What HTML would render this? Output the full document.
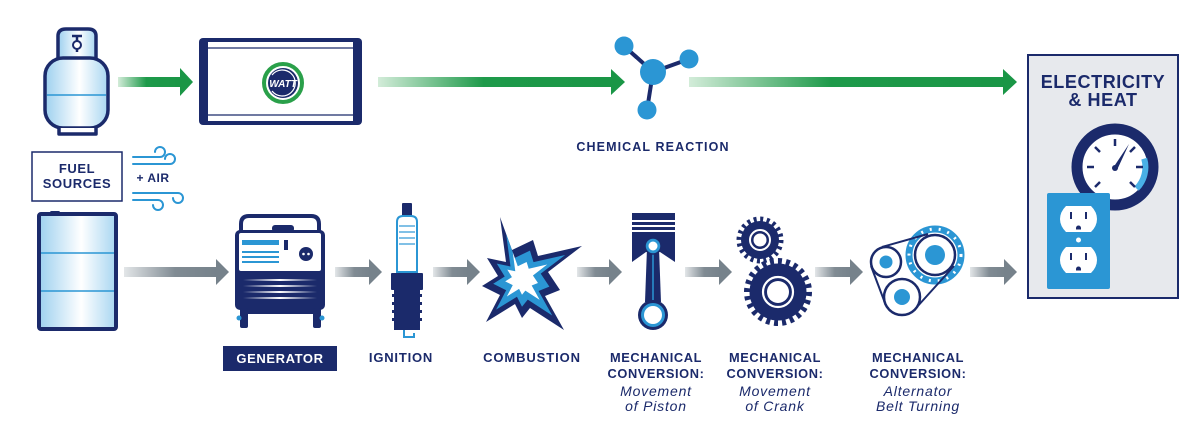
<!DOCTYPE html>
<html><head><meta charset="utf-8"><style>
html,body{margin:0;padding:0;background:#fff;}
svg{display:block;}
.t{font-family:"Liberation Sans",sans-serif;font-weight:bold;fill:#1b2a6b;}
.i{font-family:"Liberation Sans",sans-serif;font-style:italic;fill:#1b2a6b;}
</style></head><body>
<svg width="1200" height="430" viewBox="0 0 1200 430" xmlns="http://www.w3.org/2000/svg">
<defs>
<linearGradient id="gg" x1="0" x2="1" y1="0" y2="0"><stop offset="0" stop-color="#d3ecd9"/><stop offset="0.45" stop-color="#1e9a4a"/><stop offset="1" stop-color="#1a9646"/></linearGradient>
<linearGradient id="gr" x1="0" x2="1" y1="0" y2="0"><stop offset="0" stop-color="#e3e6e8"/><stop offset="0.55" stop-color="#808b93"/><stop offset="1" stop-color="#76828b"/></linearGradient>
<linearGradient id="tk" x1="0" x2="1" y1="0" y2="0"><stop offset="0" stop-color="#9dd0ef"/><stop offset="0.55" stop-color="#ffffff"/><stop offset="1" stop-color="#a8d6f1"/></linearGradient>
<linearGradient id="ws" x1="0" x2="1"><stop offset="0" stop-color="#1b2a6b"/><stop offset="0.5" stop-color="#ffffff"/><stop offset="1" stop-color="#1b2a6b"/></linearGradient>
</defs>

<!-- propane tank -->
<path d="M58,62 V36 Q58,29 66,29 H88 Q96,29 96,36 V62" fill="url(#tk)" stroke="#1b2a6b" stroke-width="3.5"/>
<line x1="77" y1="36" x2="77" y2="52" stroke="#1b2a6b" stroke-width="2.5"/>
<line x1="72" y1="36" x2="82" y2="36" stroke="#1b2a6b" stroke-width="2.5"/>
<circle cx="77" cy="45" r="4" fill="#fff" stroke="#1b2a6b" stroke-width="2"/>
<rect x="45" y="58" width="63" height="70" rx="18" fill="url(#tk)" stroke="#1b2a6b" stroke-width="3.5"/>
<line x1="47" y1="95" x2="106" y2="95" stroke="#2b96d4" stroke-width="1.5"/>
<path d="M59,128 V134 H96 V128" fill="#fff" stroke="#1b2a6b" stroke-width="3.5" stroke-linejoin="round"/>

<!-- green arrow 1 -->
<rect x="118" y="77" width="63" height="10" fill="url(#gg)"/>
<polygon points="180,68 193,82 180,96" fill="#1a9646"/>

<!-- watt box -->
<rect x="203" y="39" width="155" height="86" fill="#fff"/>
<rect x="203" y="38" width="155" height="4" fill="#1b2a6b"/>
<rect x="203" y="121" width="155" height="4" fill="#1b2a6b"/>
<line x1="207" y1="48" x2="355" y2="48" stroke="#1b2a6b" stroke-width="1.2"/>
<line x1="207" y1="115" x2="355" y2="115" stroke="#1b2a6b" stroke-width="1.2"/>
<rect x="199" y="38" width="9" height="87" rx="4" fill="#1b2a6b"/>
<rect x="353" y="38" width="9" height="87" rx="4" fill="#1b2a6b"/>
<circle cx="283" cy="83" r="19" fill="#fff" stroke="#2aa04a" stroke-width="4"/>
<circle cx="283" cy="83" r="15" fill="#1b2a6b"/>
<path d="M272,75 A13,13 0 1 1 272,91" fill="none" stroke="#fff" stroke-width="1.2"/>
<text x="283" y="87" text-anchor="middle" font-family="Liberation Sans,sans-serif" font-weight="bold" font-style="italic" font-size="10" fill="#fff">WATT</text>

<!-- green arrow 2 -->
<rect x="378" y="77" width="235" height="10" fill="url(#gg)"/>
<polygon points="611,69 625,82 611,95" fill="#1a9646"/>

<!-- molecule -->
<g stroke="#1b2a6b" stroke-width="4">
<line x1="624" y1="46" x2="653" y2="72"/>
<line x1="689" y1="59" x2="653" y2="72"/>
<line x1="647" y1="110" x2="653" y2="72"/>
</g>
<circle cx="624" cy="46" r="9.5" fill="#2b96d4"/>
<circle cx="689" cy="59" r="9.5" fill="#2b96d4"/>
<circle cx="647" cy="110" r="9.5" fill="#2b96d4"/>
<circle cx="653" cy="72" r="13" fill="#2b96d4"/>

<!-- green arrow 3 -->
<rect x="689" y="77" width="316" height="10" fill="url(#gg)"/>
<polygon points="1003,69 1017,82 1003,95" fill="#1a9646"/>

<text class="t" x="653" y="151" text-anchor="middle" font-size="12.5" letter-spacing="1.1">CHEMICAL REACTION</text>

<!-- fuel sources -->
<rect x="32" y="152" width="90" height="49" fill="#fff" stroke="#1b2a6b" stroke-width="1.5"/>
<text class="t" x="77" y="173" text-anchor="middle" font-size="13" letter-spacing="0.6">FUEL</text>
<text class="t" x="77" y="188" text-anchor="middle" font-size="13" letter-spacing="0.6">SOURCES</text>

<!-- wind -->
<g fill="none" stroke="#2b96d4" stroke-width="2" stroke-linecap="round">
<path d="M133,157 H160 A5,5 0 1 0 155,152"/>
<path d="M133,164 H170 A5,5 0 1 0 165,159"/>
<path d="M133,193 H178 A5,5 0 1 1 173,198"/>
<path d="M133,200 H158 A5,5 0 1 1 153,205"/>
</g>
<text class="t" x="153" y="182" text-anchor="middle" font-size="12" letter-spacing="0.5">+ AIR</text>

<!-- barrel -->
<rect x="50" y="211" width="10" height="4" rx="1.5" fill="#1b2a6b"/>
<rect x="39" y="214" width="77" height="115" rx="2" fill="url(#tk)" stroke="#1b2a6b" stroke-width="4"/>
<line x1="41" y1="253" x2="114" y2="253" stroke="#2b96d4" stroke-width="1.5"/>
<line x1="41" y1="291" x2="114" y2="291" stroke="#2b96d4" stroke-width="1.5"/>

<!-- gray arrows -->
<g>
<rect x="124" y="267" width="93" height="10" fill="url(#gr)"/><polygon points="216,259 229,272 216,285" fill="#76828b"/>
<rect x="335" y="267" width="35" height="10" fill="url(#gr)"/><polygon points="369,259 382,272 369,285" fill="#76828b"/>
<rect x="433" y="267" width="35" height="10" fill="url(#gr)"/><polygon points="467,259 480,272 467,285" fill="#76828b"/>
<rect x="577" y="267" width="33" height="10" fill="url(#gr)"/><polygon points="609,259 622,272 609,285" fill="#76828b"/>
<rect x="685" y="267" width="35" height="10" fill="url(#gr)"/><polygon points="719,259 732,272 719,285" fill="#76828b"/>
<rect x="815" y="267" width="36" height="10" fill="url(#gr)"/><polygon points="850,259 863,272 850,285" fill="#76828b"/>
<rect x="970" y="267" width="35" height="10" fill="url(#gr)"/><polygon points="1004,259 1017,272 1004,285" fill="#76828b"/>
</g>

<!-- generator -->
<path d="M241,232 V224 Q241,216 249,216 H311 Q319,216 319,224 V232" fill="none" stroke="#1b2a6b" stroke-width="4"/>
<rect x="272" y="225" width="22" height="7" rx="3" fill="#1b2a6b"/>
<rect x="235" y="230" width="90" height="80" rx="5" fill="#1b2a6b"/>
<rect x="239" y="233" width="82" height="38" rx="2" fill="#fff"/>
<rect x="242" y="240" width="37" height="5" fill="#2b96d4"/>
<rect x="242" y="251" width="37" height="2" fill="#2b96d4"/>
<rect x="242" y="256" width="37" height="2" fill="#2b96d4"/>
<rect x="242" y="261" width="37" height="2" fill="#2b96d4"/>
<rect x="284" y="240" width="4" height="10" fill="#1b2a6b"/>
<circle cx="306" cy="254" r="7" fill="#1b2a6b"/>
<circle cx="303.5" cy="254" r="1.3" fill="#fff"/><circle cx="308.5" cy="254" r="1.3" fill="#fff"/>
<rect x="243" y="279" width="74" height="2" fill="url(#ws)"/>
<rect x="243" y="285" width="74" height="2" fill="url(#ws)"/>
<rect x="243" y="291" width="74" height="2" fill="url(#ws)"/>
<rect x="243" y="297" width="74" height="2" fill="url(#ws)"/>
<rect x="240" y="308" width="8" height="20" rx="2" fill="#1b2a6b"/>
<rect x="313" y="308" width="8" height="20" rx="2" fill="#1b2a6b"/>
<circle cx="239" cy="318" r="2.5" fill="#2b96d4"/><circle cx="322" cy="318" r="2.5" fill="#2b96d4"/>
<rect x="248" y="308" width="65" height="6" fill="#1b2a6b"/>

<rect x="223" y="346" width="114" height="25" fill="#1b2a6b"/>
<text x="280" y="363" text-anchor="middle" font-family="Liberation Sans,sans-serif" font-weight="bold" font-size="13" letter-spacing="0.6" fill="#fff">GENERATOR</text>

<!-- spark plug -->
<rect x="402" y="203" width="10" height="13" rx="1" fill="#1b2a6b"/>
<path d="M397,272 V222 Q397,216 403,216 H411 Q417,216 417,222 V272 Z" fill="#fff" stroke="#2b96d4" stroke-width="2"/>
<g stroke="#2b96d4" stroke-width="1.2"><line x1="399" y1="226" x2="415" y2="226"/><line x1="399" y1="232" x2="415" y2="232"/><line x1="399" y1="238" x2="415" y2="238"/><line x1="399" y1="244" x2="415" y2="244"/></g>
<rect x="391" y="273" width="32" height="17" rx="1" fill="#1b2a6b"/>
<rect x="394" y="290" width="26" height="40" fill="#1b2a6b"/>
<g fill="#1b2a6b"><rect x="392" y="294" width="30" height="3"/><rect x="392" y="302" width="30" height="3"/><rect x="392" y="310" width="30" height="3"/><rect x="392" y="318" width="30" height="3"/></g>
<path d="M404,330 V337 H414 V333" fill="none" stroke="#2b96d4" stroke-width="2"/>

<!-- combustion star -->
<g>
<polygon points="500,217 512,250 533,240 538,256 582,246 548,272 560,290 545,296 564,330 530,308 522,318 515,304 486,322 500,295 482,286 498,276 487,258 506,262" fill="#1b2a6b"/>
<polygon transform="translate(522,278) scale(0.72) translate(-522,-278)" points="500,217 512,250 533,240 538,256 582,246 548,272 560,290 545,296 564,330 530,308 522,318 515,304 486,322 500,295 482,286 498,276 487,258 506,262" fill="#2b96d4"/>
<polygon transform="translate(522,278) scale(0.42) translate(-522,-278)" points="500,217 512,250 533,240 538,256 582,246 548,272 560,290 545,296 564,330 530,308 522,318 515,304 486,322 500,295 482,286 498,276 487,258 506,262" fill="#ffffff"/>
</g>

<!-- piston -->
<path d="M632,213 H675 V262 L660,252 H646 L632,262 Z" fill="#1b2a6b"/>
<rect x="632" y="220" width="43" height="2" fill="#fff"/>
<rect x="632" y="225" width="43" height="2" fill="#fff"/>
<rect x="632" y="230" width="43" height="2" fill="#fff"/>
<path d="M647,248 L645,302 L661,302 L659,248 Z" fill="#1b2a6b"/>
<line x1="653" y1="254" x2="653" y2="300" stroke="#2b96d4" stroke-width="1.5"/>
<circle cx="653" cy="246" r="8" fill="#2b96d4" stroke="#1b2a6b" stroke-width="1.5"/>
<circle cx="653" cy="246" r="4.5" fill="#fff"/>
<circle cx="653" cy="315" r="15" fill="#1b2a6b"/>
<circle cx="653" cy="315" r="12" fill="#2b96d4"/>
<circle cx="653" cy="315" r="9" fill="#fff"/>

<!-- gears -->
<circle cx="760" cy="240" r="21" fill="none" stroke="#1b2a6b" stroke-width="5" stroke-dasharray="3 3.6"/>
<circle cx="760" cy="240" r="19" fill="#1b2a6b"/>
<circle cx="760" cy="240" r="10" fill="none" stroke="#fff" stroke-width="2"/>
<circle cx="760" cy="240" r="6.5" fill="#fff"/>
<circle cx="778" cy="292" r="31" fill="none" stroke="#1b2a6b" stroke-width="6" stroke-dasharray="4 4.1"/>
<circle cx="778" cy="292" r="28.5" fill="#1b2a6b"/>
<circle cx="778" cy="292" r="15" fill="none" stroke="#fff" stroke-width="2.2"/>
<circle cx="778" cy="292" r="11" fill="#fff"/>

<!-- belt -->
<circle cx="935" cy="255" r="26" fill="none" stroke="#2b96d4" stroke-width="7"/>
<circle cx="935" cy="255" r="26" fill="none" stroke="#fff" stroke-width="3" stroke-dasharray="2 7"/>
<g fill="none" stroke="#1b2a6b" stroke-width="2">
<line x1="882" y1="247" x2="928" y2="234"/>
<line x1="954" y1="266" x2="916" y2="308"/>
<line x1="871" y1="266" x2="885" y2="303"/>
</g>
<circle cx="886" cy="262" r="15" fill="#fff" stroke="#1b2a6b" stroke-width="2.5"/>
<circle cx="886" cy="262" r="6.5" fill="#2b96d4"/>
<circle cx="902" cy="297" r="18" fill="#fff" stroke="#1b2a6b" stroke-width="2.5"/>
<circle cx="902" cy="297" r="8" fill="#2b96d4"/>
<circle cx="935" cy="255" r="20" fill="#fff" stroke="#1b2a6b" stroke-width="2.5"/>
<circle cx="935" cy="255" r="10" fill="#2b96d4"/>

<!-- right panel -->
<rect x="1028" y="55" width="150" height="243" fill="#e7e9ed" stroke="#1b2a6b" stroke-width="2"/>
<text class="t" x="1103" y="88" text-anchor="middle" font-size="18" letter-spacing="0.6">ELECTRICITY</text>
<text class="t" x="1103" y="106" text-anchor="middle" font-size="18" letter-spacing="0.6">&amp; HEAT</text>
<circle cx="1115" cy="167" r="38" fill="#fff" stroke="#1b2a6b" stroke-width="11"/>
<path d="M1144.2,158.6 A30.5,30.5 0 0 1 1136.6,188.6" fill="none" stroke="#49b0e6" stroke-width="6"/>
<g stroke="#1b2a6b" stroke-width="2.5">
<line x1="1115" y1="139" x2="1115" y2="146"/>
<line x1="1095" y1="147" x2="1100" y2="152"/>
<line x1="1087" y1="167" x2="1094" y2="167"/>
<line x1="1095" y1="187" x2="1100" y2="182"/>
<line x1="1135" y1="147" x2="1130" y2="152"/>
<line x1="1143" y1="167" x2="1136" y2="167"/>
<line x1="1135" y1="187" x2="1130" y2="182"/>
</g>
<polygon points="1113,168 1117,170 1129,144" fill="#1b2a6b"/>
<circle cx="1115" cy="168" r="3" fill="#1b2a6b"/>
<rect x="1047" y="193" width="63" height="96" rx="2" fill="#2b96d4"/>
<path d="M1066,206 H1091 Q1097,212 1097,219 Q1097,226 1091,232 H1066 Q1060,226 1060,219 Q1060,212 1066,206 Z" fill="#fff"/>
<path d="M1066,247 H1091 Q1097,253 1097,260 Q1097,267 1091,273 H1066 Q1060,267 1060,260 Q1060,253 1066,247 Z" fill="#fff"/>
<g fill="#1b2a6b">
<rect x="1070" y="212" width="2" height="7"/><rect x="1085" y="212" width="2" height="7"/>
<path d="M1076,228 a2.5,2.5 0 0 1 5,0 v1.5 h-5 z"/>
<rect x="1070" y="253" width="2" height="7"/><rect x="1085" y="253" width="2" height="7"/>
<path d="M1076,269 a2.5,2.5 0 0 1 5,0 v1.5 h-5 z"/>
</g>
<circle cx="1078.5" cy="240" r="2.5" fill="#fff"/>

<!-- labels -->
<text class="t" x="401" y="362" text-anchor="middle" font-size="13" letter-spacing="0.8">IGNITION</text>
<text class="t" x="532" y="362" text-anchor="middle" font-size="13" letter-spacing="0.9">COMBUSTION</text>

<text class="t" x="656" y="362" text-anchor="middle" font-size="12.8" letter-spacing="0.6">MECHANICAL</text>
<text class="t" x="656" y="378" text-anchor="middle" font-size="12.8" letter-spacing="0.6">CONVERSION:</text>
<text class="i" x="656" y="396" text-anchor="middle" font-size="14" letter-spacing="0.8">Movement</text>
<text class="i" x="656" y="411" text-anchor="middle" font-size="14" letter-spacing="0.8">of Piston</text>

<text class="t" x="775" y="362" text-anchor="middle" font-size="12.8" letter-spacing="0.6">MECHANICAL</text>
<text class="t" x="775" y="378" text-anchor="middle" font-size="12.8" letter-spacing="0.6">CONVERSION:</text>
<text class="i" x="775" y="396" text-anchor="middle" font-size="14" letter-spacing="0.8">Movement</text>
<text class="i" x="775" y="411" text-anchor="middle" font-size="14" letter-spacing="0.8">of Crank</text>

<text class="t" x="918" y="362" text-anchor="middle" font-size="12.8" letter-spacing="0.6">MECHANICAL</text>
<text class="t" x="918" y="378" text-anchor="middle" font-size="12.8" letter-spacing="0.6">CONVERSION:</text>
<text class="i" x="918" y="396" text-anchor="middle" font-size="14" letter-spacing="0.8">Alternator</text>
<text class="i" x="918" y="411" text-anchor="middle" font-size="14" letter-spacing="0.8">Belt Turning</text>
</svg>
</body></html>
